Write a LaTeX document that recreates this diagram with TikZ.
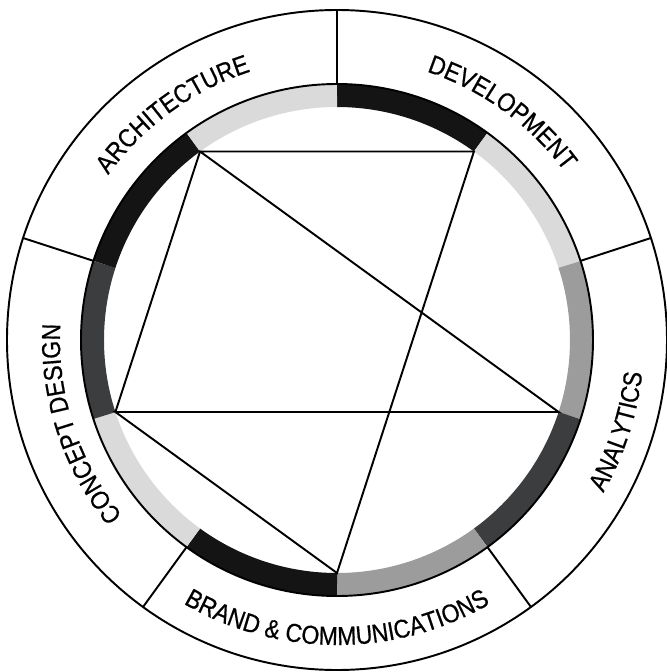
\documentclass[tikz,border=0pt]{standalone}
\usepackage{fontspec}
\setmainfont{Liberation Sans}[FakeStretch=0.88, FakeBold=0.6]
\usetikzlibrary{decorations.text}
\definecolor{ringblack}{RGB}{20,20,20}
\definecolor{ringdark}{RGB}{60,61,63}
\definecolor{ringmid}{RGB}{156,156,156}
\definecolor{ringlight}{RGB}{218,218,218}
\newcommand{\labelfont}{\fontsize{7.4}{8}\selectfont}

\begin{document}
\begin{tikzpicture}[line width=0.55pt,
    band/.style={line width=0.23cm},
    arc label/.style={decorate, decoration={text along path, text align=center, text={|\labelfont|#1}}}]
  \useasboundingbox (-3.37,-3.32) rectangle (3.30,3.40);
  \foreach \a/\c in {90/ringblack, 54/ringlight, 18/ringmid, -18/ringdark, -54/ringmid,
                     -90/ringblack, -126/ringlight, -162/ringdark, 162/ringblack, 126/ringlight}
    \draw[band, \c] (\a:2.445) arc[start angle=\a, delta angle=-36, radius=2.445];
  \draw (0,0) circle[radius=2.56];
  \draw (0,0) circle[radius=3.30];
  \foreach \a in {90,18,-54,-126,162}
    \draw (\a:2.56) -- (\a:3.30);

  \coordinate (arch) at (126:2.33);
  \coordinate (dev) at (54:2.33);
  \coordinate (ana) at (-18:2.33);
  \coordinate (brand) at (-90:2.33);
  \coordinate (concept) at (198:2.33);
  \draw (arch) -- (dev) -- (brand) -- (concept) -- (ana) -- (arch) -- (concept);

  \path[arc label=ARCHITECTURE] (162:2.82) arc[start angle=162, end angle=90, radius=2.82];
  \path[arc label=DEVELOPMENT] (90:2.83) arc[start angle=90, end angle=18, radius=2.83];
  \path[arc label=ANALYTICS] (-54:3.07) arc[start angle=-54, end angle=18, radius=3.07];
  \path[arc label={BRAND {\&} COMMUNICATIONS}] (-126:3.05) arc[start angle=-126, end angle=-54, radius=3.05];
  \path[arc label={CONCEPT DESIGN}] (234:2.77) arc[start angle=234, end angle=162, radius=2.77];
\end{tikzpicture}
\end{document}
